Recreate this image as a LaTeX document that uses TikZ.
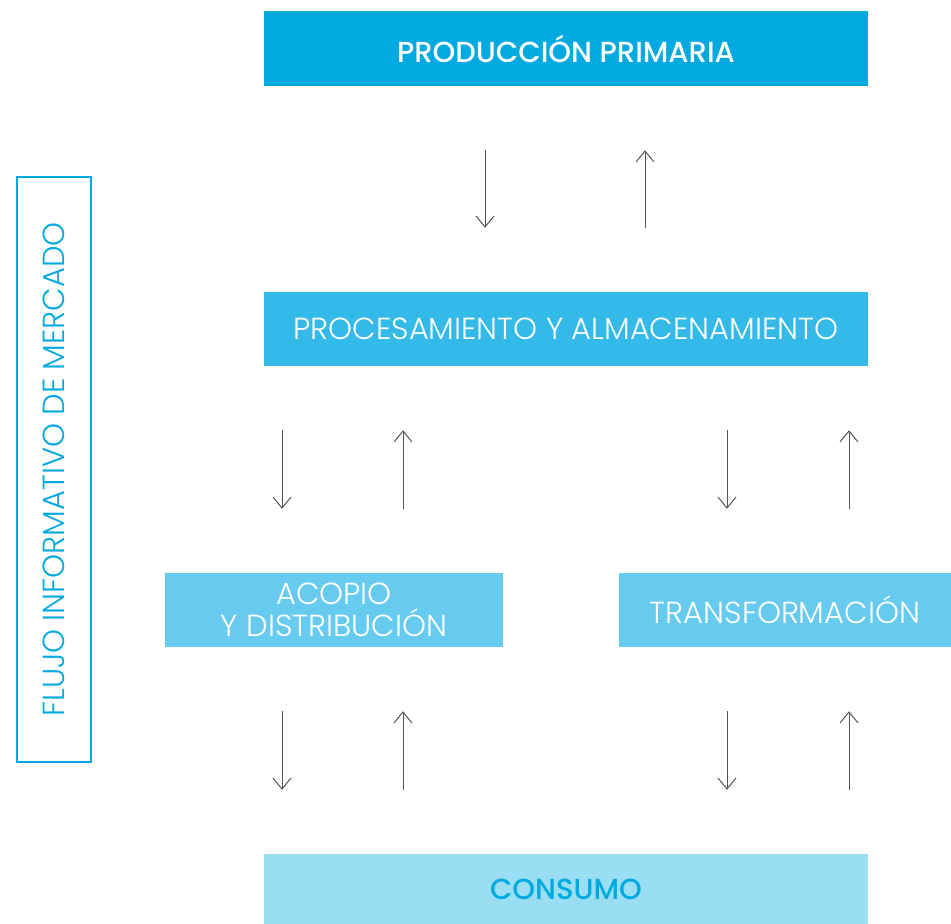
\documentclass[tikz,border=0pt]{standalone}
\usepackage{fontspec}
\setmainfont{Poppins}
\newfontfamily\lightfont{Poppins Light}
\newfontfamily\medfont{Poppins Medium}
\usetikzlibrary{arrows.meta}
\definecolor{azul1}{HTML}{00A9E0}
\definecolor{azul2}{HTML}{33BAE8}
\definecolor{azul3}{HTML}{66CBEF}
\definecolor{azul4}{HTML}{99DEF3}
\definecolor{flecha}{HTML}{555555}
\begin{document}
\begin{tikzpicture}[x=1pt,y=-1pt,
	caja/.style={inner sep=0pt, text=white, font=\lightfont\fontsize{30.5}{32}\selectfont, align=center},
	fuerte/.style={font=\medfont\fontsize{29}{32}\selectfont},
	flujo/.style={-{Straight Barb[length=11pt,width=18pt]}, flecha, line width=1pt, shorten <=64pt, shorten >=64pt}]
	\useasboundingbox (0,0) rectangle (951,924);

	\node[caja, fuerte, fill=azul1, minimum width=604pt, minimum height=75pt] (prod) at (566,48.5) {PRODUCCIÓN PRIMARIA};
	\node[caja, fill=azul2, minimum width=604pt, minimum height=74pt] (proc) at (566,329) {PROCESAMIENTO Y ALMACENAMIENTO};
	\node[caja, fill=azul3, minimum width=338pt, minimum height=74pt] (acop) at (334,610) {ACOPIO\\ Y DISTRIBUCIÓN};
	\node[caja, fill=azul3, minimum width=332pt, minimum height=74pt] (trans) at (785,610) {TRANSFORMACIÓN};
	\node[caja, fuerte, fill=azul4, minimum width=604pt, minimum height=70pt, text=azul1] (cons) at (566,889) {CONSUMO};
	\node[caja, draw=azul1, line width=1.2pt, text=azul1, rotate=90, minimum width=585pt, minimum height=74pt] (info) at (54,469.5) {FLUJO INFORMATIVO DE MERCADO};

	\draw[flujo] (prod.south -| 485,0) -- (proc.north -| 485,0);
	\draw[flujo] (proc.north -| 645,0) -- (prod.south -| 645,0);
	\draw[flujo] (proc.south -| 282,0) -- (acop.north -| 282,0);
	\draw[flujo] (acop.north -| 403,0) -- (proc.south -| 403,0);
	\draw[flujo] (proc.south -| 727,0) -- (trans.north -| 727,0);
	\draw[flujo] (trans.north -| 849,0) -- (proc.south -| 849,0);
	\draw[flujo] (acop.south -| 282,0) -- (cons.north -| 282,0);
	\draw[flujo] (cons.north -| 403,0) -- (acop.south -| 403,0);
	\draw[flujo] (trans.south -| 727,0) -- (cons.north -| 727,0);
	\draw[flujo] (cons.north -| 849,0) -- (trans.south -| 849,0);
\end{tikzpicture}
\end{document}
